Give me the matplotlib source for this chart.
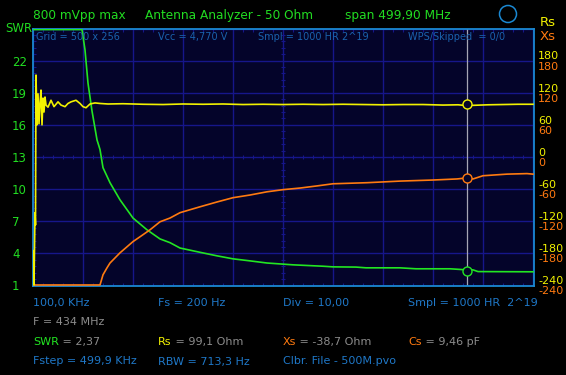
import numpy as np
import matplotlib
matplotlib.use('Agg')
import matplotlib.pyplot as plt
from matplotlib.ticker import FixedLocator
from matplotlib.patches import Ellipse
from matplotlib.text import Annotation

plt.rcParams['font.family'] = ['DejaVu Sans']

# ---------------- data ----------------
swr_freq = [0.1, 49, 52, 55, 59, 64, 67, 70, 77, 87, 100, 114, 127, 137, 147, 167, 184,
            200, 217, 234, 260, 290, 300, 323, 333, 367, 383, 417, 434, 440, 445, 500]
swr_vals = [24.9, 24.9, 23.0, 19.9, 17.3, 14.6, 13.7, 12.0, 10.6, 9.0, 7.3, 6.2, 5.35, 5.0,
            4.5, 4.1, 3.77, 3.49, 3.3, 3.1, 2.93, 2.80, 2.74, 2.72, 2.65, 2.65, 2.56, 2.56,
            2.46, 2.46, 2.30, 2.28]

xs_freq = [0.1, 67, 70, 74, 77, 87, 100, 107, 117, 127, 137, 147, 167, 184, 200, 217, 234,
           250, 267, 284, 300, 334, 367, 400, 424, 434, 440, 450, 474, 494, 500]
xs_vals = [-239, -239, -220, -207, -198, -179, -158, -149, -136, -121, -114, -104, -93, -84,
           -76, -71, -65, -61, -58, -54, -50, -48, -45, -43, -41, -39, -41, -35, -32, -31, -32]

rs_freq = [0.1, 1, 2, 2.5, 3, 4, 5, 6, 7, 8, 9, 10, 11, 12, 13, 15, 18, 21, 25, 28, 32, 35,
           38, 43, 47, 50, 53, 57, 62, 67, 75, 90, 110, 130, 150, 170, 190, 210, 230, 250,
           270, 290, 310, 330, 350, 370, 390, 410, 425, 434, 440, 455, 470, 485, 500]
rs_vals = [-175, -239, -104, -127, 153, 60, 118, 62, 100, 125, 60, 110, 84, 112, 97, 93, 106,
           94, 103, 97, 94, 100, 103, 106, 100, 94, 92, 99, 101, 100, 99, 99.5, 98.5, 98, 99,
           98.5, 99, 98, 98.5, 98, 98.5, 98, 98.5, 98, 97.5, 98, 98, 97, 97.5, 96, 96.5,
           97.5, 98, 98.5, 98.5]

cursor_freq = 434
cursor_swr = 2.37
cursor_rs = 99.1
cursor_xs = -38.7
cursor_cs = 9.46

swr_ticks = [1, 4, 7, 10, 13, 16, 19, 22, 25]
swr_labels = ['1', '4', '7', '10', '13', '16', '19', '22', '']
rx_ticks = [180, 120, 60, 0, -60, -120, -180, -240]

# ---------------- style ----------------
BG = '#04042a'
GRID = '#16168a'
FRAME = '#1a88d2'
GREEN = '#22e622'
YELLOW = '#f2f200'
ORANGE = '#ff7a10'
BLUE_IN = '#1a62ad'
BLUE = '#1f78c8'
GRAY = '#8c8c8c'
TXTG = '#22dd22'

W, H = 566, 375
fig = plt.figure(figsize=(W / 100, H / 100), dpi=100, facecolor='black')


def fy(py):
    return 1 - py / H


ax = fig.add_axes([33 / W, 1 - 285.5 / H, 501 / W, 257 / H])
ax.set_facecolor(BG)
ax.set_xlim(0, 501)
ax.set_ylim(1, 25)
ax.set_xticks(np.arange(0, 501, 50))
ax.set_yticks(swr_ticks)
ax.set_yticklabels(swr_labels)
ax.set_xticklabels([])
ax.grid(True, color=GRID, linewidth=1.0)
ax.xaxis.set_minor_locator(FixedLocator(np.arange(0, 501, 10)))
ax.yaxis.set_minor_locator(FixedLocator(np.arange(1, 25.01, 0.6)))
ax.tick_params(which='major', length=0, colors=TXTG, labelsize=8.5)
ax.tick_params(axis='y', which='major', pad=15)
for lab in ax.get_yticklabels():
    lab.set_horizontalalignment('left')
    lab.set_color(TXTG)
ax.tick_params(which='minor', direction='in', length=2.5, width=0.8, color=GRID,
               top=True, right=True, bottom=True, left=True)
for s in ax.spines.values():
    s.set_color(FRAME)
    s.set_linewidth(1.3)

# centre cross minor ticks
cx = np.arange(0, 501, 10)
ax.plot(cx, np.full(cx.shape, 13.0), ls='none', marker='|', ms=3.5, mew=0.8, color=GRID, zorder=1)
cy = np.arange(1, 25.01, 0.6)
ax.plot(np.full(cy.shape, 250.0), cy, ls='none', marker='_', ms=3.5, mew=0.8, color=GRID, zorder=1)

ax2 = ax.twinx()
ax2.set_ylim(-240, 240)
ax2.set_yticks([])
for s in ax2.spines.values():
    s.set_visible(False)

# cursor
ax.axvline(cursor_freq, color='#a6a6b4', lw=0.9, zorder=2)

# traces
ax.plot(swr_freq, swr_vals, color=GREEN, lw=1.2, zorder=4)
ax2.plot(xs_freq, xs_vals, color=ORANGE, lw=1.2, zorder=4)
ax2.plot(rs_freq, rs_vals, color=YELLOW, lw=1.2, zorder=5)

# cursor markers
ax.plot([cursor_freq], [cursor_swr], marker='o', ms=6.5, mfc=BG, mec=GREEN, mew=1.0, zorder=6)
ax2.plot([cursor_freq], [cursor_xs], marker='o', ms=6.5, mfc=BG, mec=ORANGE, mew=1.0, zorder=6)
ax2.plot([cursor_freq], [cursor_rs], marker='o', ms=6.5, mfc=BG, mec=YELLOW, mew=1.0, zorder=6)

# right axis labels
for v in rx_ticks:
    ax2.annotate(str(v), xy=(1, v), xycoords=('axes fraction', 'data'), xytext=(3, 3),
                 textcoords='offset points', color=YELLOW, fontsize=8, va='center', ha='left',
                 annotation_clip=False)
    ax2.annotate(str(v), xy=(1, v), xycoords=('axes fraction', 'data'), xytext=(3, -4.3),
                 textcoords='offset points', color=ORANGE, fontsize=8, va='center', ha='left',
                 annotation_clip=False)

# header
fig.text(33 / W, fy(16), '800 mVpp max', color=TXTG, fontsize=8.7, va='center')
fig.text(145 / W, fy(16), 'Antenna Analyzer - 50 Ohm', color=TXTG, fontsize=8.7, va='center')
fig.text(345 / W, fy(16), 'span 499,90 MHz', color=TXTG, fontsize=8.7, va='center')
fig.add_artist(Ellipse((508 / W, fy(14)), 17 / W, 17 / H, fill=False, ec=FRAME, lw=1.1))
fig.text(5 / W, fy(29), 'SWR', color=TXTG, fontsize=8.5, va='center')
fig.text(540 / W, fy(22), 'Rs', color=YELLOW, fontsize=9.5, va='center')
fig.text(540 / W, fy(37), 'Xs', color=ORANGE, fontsize=9.5, va='center')

# inside-plot status line
for x, t in [(36, 'Grid = 500 x 256'), (158, 'Vcc = 4,770 V'), (258, 'Smpl = 1000 HR 2^19'),
             (408, 'WPS/Skipped  = 0/0')]:
    fig.text(x / W, fy(37), t, color=BLUE_IN, fontsize=7, va='center')

# bottom readouts
for x, t in [(33, '100,0 KHz'), (158, 'Fs = 200 Hz'), (283, 'Div = 10,00'),
             (408, 'Smpl = 1000 HR  2^19')]:
    fig.text(x / W, fy(303), t, color=BLUE, fontsize=8, va='center')
fig.text(33 / W, fy(322), f'F = {cursor_freq} MHz', color=GRAY, fontsize=8, va='center')


def fmt(v, d):
    return f'{v:.{d}f}'.replace('.', ',')


pairs = [(33, 'SWR', GREEN, f' = {fmt(cursor_swr, 2)}'),
         (158, 'Rs', YELLOW, f' = {fmt(cursor_rs, 1)} Ohm'),
         (283, 'Xs', ORANGE, f' = {fmt(cursor_xs, 1)} Ohm'),
         (408, 'Cs', ORANGE, f' = {fmt(cursor_cs, 2)} pF')]
for x, a, c, b in pairs:
    t1 = fig.text(x / W, fy(342), a, color=c, fontsize=8, va='center')
    fig.add_artist(Annotation(b, xy=(1, 0.5), xycoords=t1, va='center',
                              color=GRAY, fontsize=8))

for x, t in [(33, 'Fstep = 499,9 KHz'), (158, 'RBW = 713,3 Hz'), (283, 'Clbr. File - 500M.pvo')]:
    fig.text(x / W, fy(361.5), t, color=BLUE, fontsize=8, va='center')

fig.savefig('out.png', dpi=100, facecolor='black')
